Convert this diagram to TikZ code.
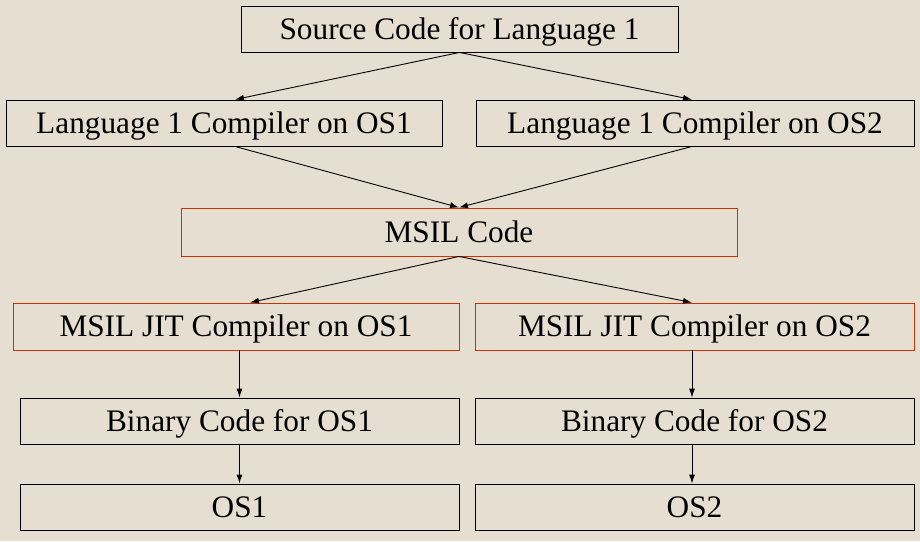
\documentclass[tikz,border=0pt]{standalone}
\usepackage{fontspec}
\setmainfont{Liberation Serif}
\usetikzlibrary{arrows.meta}
\definecolor{bgbeige}{RGB}{230,222,208}
\definecolor{msilred}{RGB}{204,51,0}
\begin{document}
\begin{tikzpicture}[x=1pt,y=-1pt,
  box/.style={draw=black,line width=0.9pt,rectangle,inner sep=0pt,minimum height=46pt,
    text height=25pt,text depth=5pt,
    font=\fontsize{31.3}{37}\selectfont,text=black},
  redbox/.style={box,draw=msilred},
  arr/.style={line width=0.9pt,-{Latex[length=9pt,width=6pt]}}]
\fill[bgbeige] (0,0) rectangle (920,541);
\useasboundingbox (0,0) rectangle (920,541);
\node[box,minimum width=437pt] (src) at (459.5,29) {Source Code for Language 1};
\node[box,minimum width=436pt] (c1) at (224,123) {Language 1 Compiler on OS1};
\node[box,minimum width=438pt] (c2) at (695,123) {Language 1 Compiler on OS2};
\node[redbox,minimum width=556pt,minimum height=48pt] (msil) at (459,232) {MSIL Code};
\node[redbox,minimum width=446pt,minimum height=47pt] (j1) at (236,326.5) {MSIL JIT Compiler on OS1};
\node[redbox,minimum width=439pt,minimum height=47pt] (j2) at (694.5,326.5) {MSIL JIT Compiler on OS2};
\node[box,minimum width=439pt] (b1) at (239.5,421) {Binary Code for OS1};
\node[box,minimum width=439pt] (b2) at (694.5,421) {Binary Code for OS2};
\node[box,minimum width=439pt] (o1) at (239.5,507) {OS1};
\node[box,minimum width=439pt] (o2) at (694.5,507) {OS2};
\draw[arr] (src.south) -- ([xshift=11pt]c1.north);
\draw[arr] (src.south) -- ([xshift=-3pt]c2.north);
\draw[arr] ([xshift=11pt]c1.south) -- (msil.north);
\draw[arr] ([xshift=-3pt]c2.south) -- (msil.north);
\draw[arr] (msil.south) -- ([xshift=14pt]j1.north);
\draw[arr] (msil.south) -- ([xshift=-2.5pt]j2.north);
\draw[arr] ([xshift=3.5pt]j1.south) -- (b1.north);
\draw[arr] ([xshift=-2.5pt]j2.south) -- ([xshift=-2.5pt]b2.north);
\draw[arr] (b1.south) -- (o1.north);
\draw[arr] ([xshift=-2.5pt]b2.south) -- ([xshift=-2.5pt]o2.north);
\end{tikzpicture}
\end{document}
